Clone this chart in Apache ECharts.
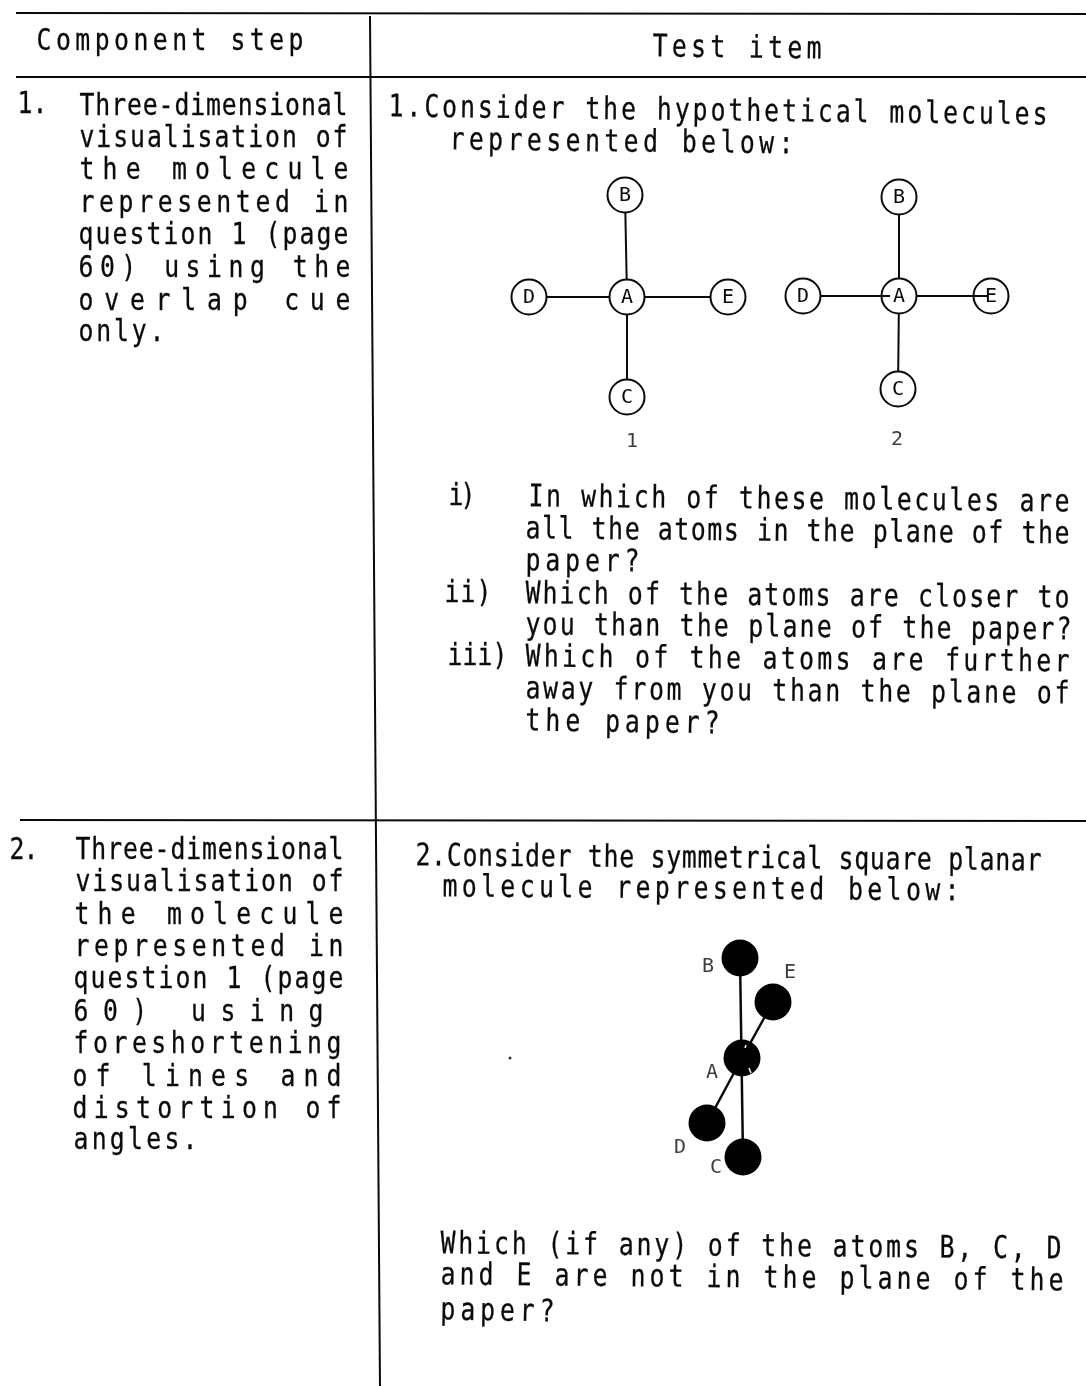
<!DOCTYPE html>
<html>
<head>
<meta charset="utf-8">
<style>html,body{margin:0;padding:0;background:#fff}#c{width:1086px;height:1386px}</style>
<script src="https://cdn.jsdelivr.net/npm/echarts@6/dist/echarts.min.js"></script>
</head>
<body>
<div id="c"></div>
<script>
// ---- text content ----
const headerLines = ['Component step', 'Test item'];
const step1Lines = ['1.', 'Three-dimensional', 'visualisation of', 'the molecule', 'represented in', 'question 1 (page', '60) using the', 'overlap cue', 'only.'];
const step2Lines = ['2.', 'Three-dimensional', 'visualisation of', 'the molecule', 'represented in', 'question 1 (page', '60) using', 'foreshortening', 'of lines and', 'distortion of', 'angles.'];
const item1Lines = ['1.Consider the hypothetical molecules', 'represented below:', 'i)', 'In which of these molecules are', 'all the atoms in the plane of the', 'paper?', 'ii)', 'Which of the atoms are closer to', 'you than the plane of the paper?', 'iii)', 'Which of the atoms are further', 'away from you than the plane of', 'the paper?'];
const item2Lines = ['2.Consider the symmetrical square planar', 'molecule represented below:', 'Which (if any) of the atoms B, C, D', 'and E are not in the plane of the', 'paper?'];

// ---- where each text line sits: [left x, left baseline, right x, right baseline] ----
const headerSpan = [[38,50,302,50],[654,56,820,58]];
const step1Span = [[19,113,46,113],[81,115,349,115],[81,147,349,147],[81,179,349,179],[81,212,349,212],[80,244,349,244],[80,277,349,277],[80,310,349,310],[80,341,163,341]];
const step2Span = [[11,859,37,859],[77,859,342,859],[77,891,342,891],[76,924,342,924],[76,956,342,956],[75,988,342,988],[75,1021,322,1021],[75,1053,340,1053],[74,1086,340,1086],[74,1118,340,1118],[75,1149,196,1149]];
const item1Span = [[390,116,1046,124],[451,149,792,153],[450,505,474,505],[530,506,1068,511],[527,538,1068,543],[527,570,637,571],[446,602,490,602],[527,603,1068,607],[527,634,1070,639],[449,665,506,665],[527,666,1068,671],[527,698,1068,703],[527,730,718,733]];
const item2Span = [[417,865,1040,870],[444,896,958,900],[442,1253,1060,1258],[442,1284,1062,1290],[442,1319,553,1321]];

// ---- table rules ----
const ruleSegments = [
  [[16,13],[1086,14]],
  [[16,77],[1086,77]],
  [[20,820],[1086,821]],
  [[370,16],[380,1386]]
];

// ---- molecule geometry ----
const mol1Atoms = [['B',625,195],['A',627,297],['D',529,297],['E',728,297],['C',627,397]];
const mol2Atoms = [['B',899,197],['A',899,296],['D',803,296],['E',991,296],['C',898,389]];
const mol3Atoms = [['B',740,958],['E',773,1002],['A',742,1058],['D',707,1123],['C',743,1157]];
const mol3Labels = [['B',708,966],['E',790,972],['A',712,1072],['D',680,1147],['C',716,1167]];
const captionLabels = [['1',632,441],['2',897,439]];
const underBonds = [
  [[625,195],[627,297]],[[529,297],[627,297]],[[627,297],[728,297]],[[627,297],[627,397]],
  [[899,197],[899,296]],[[899,296],[898,389]]
];
const mol3Bonds = [[[740,958],[743,1157]],[[773,1002],[742,1058]],[[742,1058],[707,1123]]];
const overBonds = [[[821,296],[890,296]],[[917,296],[988,296]]];
const mol3Nicks = [[[746,1045],[745,1048]],[[749,1068],[751,1073]]];
const specks = [[510,1058]];

// ---- style ----
const INK = '#0a0a0a';
const FONT = '31px "DejaVu Sans Mono"';
const SCALE_X = 0.8;
const BASELINE_SHIFT = 7.7;
const BEARING = 3;

// ---- assemble text ----
const allLines = [];
[[headerLines,headerSpan],[step1Lines,step1Span],[step2Lines,step2Span],[item1Lines,item1Span],[item2Lines,item2Span]]
  .forEach(([t,s]) => t.forEach((line,i) => allLines.push({line, span:s[i]})));

const measure = document.createElement('canvas').getContext('2d');
measure.font = FONT;
const spacing = new Map();
allLines.forEach(({line,span}) => {
  const w = Math.hypot(span[2]-span[0], span[3]-span[1]) + BEARING;
  const gaps = Math.max(1, line.length - 1);
  spacing.set(line, (w / SCALE_X - measure.measureText(line).width) / gaps);
});
['fillText','strokeText'].forEach(name => {
  const native = CanvasRenderingContext2D.prototype[name];
  CanvasRenderingContext2D.prototype[name] = function (t, x, y, m) {
    if (spacing.has(t)) this.letterSpacing = spacing.get(t).toFixed(3) + 'px';
    if (m === undefined) native.call(this, t, x, y); else native.call(this, t, x, y, m);
    this.letterSpacing = '0px';
  };
});

const segs = a => a.map(c => ({coords:c}));
const lineSeries = (data, width, color, z) => ({
  type:'lines', coordinateSystem:'cartesian2d', polyline:false, silent:true, z,
  lineStyle:{color, width, opacity:1}, data:segs(data)
});
const letterLabel = {show:true, position:'inside', formatter:p=>p.data[2], color:INK,
  fontFamily:'DejaVu Sans Mono', fontSize:20, offset:[0,1]};
const openAtoms = (atoms) => ({
  type:'scatter', symbol:'circle', symbolSize:35, silent:true, z:3,
  itemStyle:{color:'#fff', borderColor:INK, borderWidth:2, opacity:1},
  label:letterLabel,
  data:atoms.map(a=>[a[1],a[2],a[0]])
});
const textMarks = (rows) => ({
  type:'scatter', symbolSize:0, silent:true, z:5,
  label:letterLabel,
  data:rows.map(a=>[a[1],a[2],a[0]])
});

const chart = echarts.init(document.getElementById('c'), null, {renderer:'canvas', width:1086, height:1386});
chart.setOption({
  animation:false,
  backgroundColor:'#ffffff',
  grid:{left:0,right:0,top:0,bottom:0},
  xAxis:{type:'value',min:0,max:1086,show:false},
  yAxis:{type:'value',min:0,max:1386,inverse:true,show:false},
  tooltip:{show:false},
  series:[
    lineSeries(ruleSegments, 2, INK, 1),
    lineSeries(underBonds, 2, INK, 2),
    lineSeries(mol3Bonds, 2.5, INK, 2),
    openAtoms(mol1Atoms),
    openAtoms(mol2Atoms),
    lineSeries(overBonds, 2, INK, 4),
    {type:'scatter', symbol:'circle', symbolSize:37, silent:true, z:3,
      itemStyle:{color:'#000',opacity:1}, data:mol3Atoms.map(a=>[a[1],a[2]])},
    lineSeries(mol3Nicks, 1.5, '#ffffff', 4),
    textMarks(mol3Labels),
    textMarks(captionLabels),
    {type:'scatter', symbolSize:3, silent:true, z:1, itemStyle:{color:'#333',opacity:1}, data:specks},
    {type:'custom', silent:true, z:6, clip:false,
      data:allLines.map((l,i)=>[l.span[0],l.span[1],i]),
      renderItem:(params,api)=>{
        const {line,span} = allLines[api.value(2)];
        const p = api.coord([span[0]-BEARING/2, span[1]-BASELINE_SHIFT]);
        return {type:'text', x:p[0], y:p[1], scaleX:SCALE_X, scaleY:1,
          rotation:-Math.atan2(span[3]-span[1], span[2]-span[0]),
          style:{text:line, font:FONT, fill:INK, stroke:INK, lineWidth:0.3, align:'left', verticalAlign:'middle'}};
      }}
  ]
});
</script>
</body>
</html>
